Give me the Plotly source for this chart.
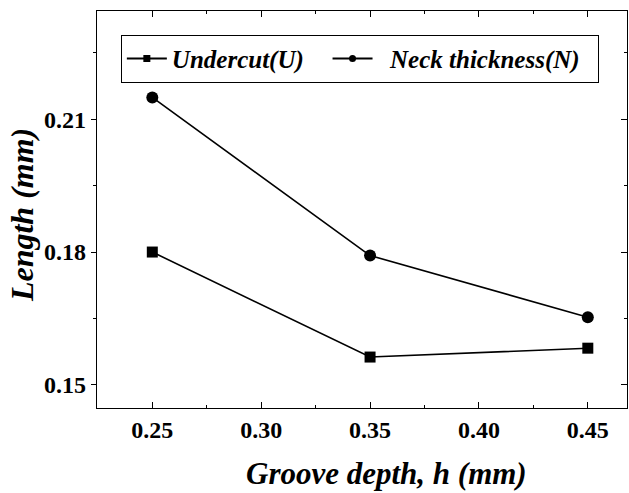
import plotly.graph_objects as go

depth = [0.25, 0.35, 0.45]
undercut = [0.1800, 0.1563, 0.1583]
neck = [0.2149, 0.1792, 0.1653]

x_ticks = [0.25, 0.30, 0.35, 0.40, 0.45]
x_labels = ["0.25", "0.30", "0.35", "0.40", "0.45"]
y_ticks = [0.15, 0.18, 0.21]
y_labels = ["0.15", "0.18", "0.21"]

serif = "Liberation Serif, Times New Roman, serif"
NB = "\u00a0"

fig = go.Figure()
fig.add_trace(go.Scatter(
    x=depth, y=undercut, mode="lines+markers", showlegend=False,
    line=dict(color="black", width=1.6),
    marker=dict(symbol="square", size=11, color="black"),
))
fig.add_trace(go.Scatter(
    x=depth, y=neck, mode="lines+markers", showlegend=False,
    line=dict(color="black", width=1.6),
    marker=dict(symbol="circle", size=12, color="black"),
))
# legend entries with small markers
fig.add_trace(go.Scatter(
    x=[None], y=[None], mode="lines+markers",
    name="<b><i>Undercut(U)</i></b>" + NB * 3,
    line=dict(color="black", width=2), marker=dict(symbol="square", size=7, color="black"),
))
fig.add_trace(go.Scatter(
    x=[None], y=[None], mode="lines+markers",
    name=NB * 2 + "<b><i>Neck thickness(N)</i></b>" + NB * 2,
    line=dict(color="black", width=2), marker=dict(symbol="circle", size=7, color="black"),
))
# invisible trace for right-side axis ticks
fig.add_trace(go.Scatter(x=depth, y=neck, yaxis="y2", mode="none",
                         showlegend=False, hoverinfo="skip"))

fig.update_layout(
    width=629, height=493,
    margin=dict(l=97, r=2, t=11, b=85),
    paper_bgcolor="white", plot_bgcolor="white",
    font=dict(family=serif, color="black"),
    showlegend=True,
    legend=dict(
        orientation="h", x=0.045, y=0.94, xanchor="left", yanchor="top",
        bordercolor="black", borderwidth=1, bgcolor="white",
        font=dict(family=serif, size=25, color="black"),
        itemwidth=40, traceorder="normal",
    ),
    xaxis=dict(
        range=[0.2246, 0.468], tickvals=x_ticks, ticktext=x_labels,
        ticks="inside", ticklen=6, tickwidth=1.2, tickcolor="black",
        showline=True, linecolor="black", linewidth=1.2, mirror="ticks",
        showgrid=False, zeroline=False,
        tickfont=dict(family=serif, size=24, color="black", weight="bold"),
        minor=dict(dtick=0.025, tick0=0.25, ticks="inside", ticklen=3, tickcolor="black", showgrid=False),
    ),
    yaxis=dict(
        range=[0.1448, 0.2344], tickvals=y_ticks, ticktext=y_labels,
        ticks="outside", ticklen=5, tickwidth=1.2, tickcolor="black",
        showline=True, linecolor="black", linewidth=1.2, mirror=True,
        showgrid=False, zeroline=False,
        tickfont=dict(family=serif, size=24, color="black", weight="bold"),
        minor=dict(dtick=0.015, tick0=0.15, ticks="outside", ticklen=3, tickcolor="black", showgrid=False),
    ),
    yaxis2=dict(
        overlaying="y", side="right", matches="y", range=[0.1448, 0.2344],
        tickvals=y_ticks, showticklabels=False, ticks="inside", ticklen=6,
        tickwidth=1.2, tickcolor="black", showgrid=False, zeroline=False, showline=False,
        minor=dict(dtick=0.015, tick0=0.15, ticks="inside", ticklen=3, tickcolor="black", showgrid=False),
    ),
    annotations=[
        dict(text="<b><i>Groove depth, h (mm)</i></b>", xref="paper", yref="paper",
             x=0.547, y=-0.164, xanchor="center", yanchor="middle", showarrow=False,
             font=dict(family=serif, size=31, color="black")),
        dict(text="<b><i>Length (mm)</i></b>", xref="paper", yref="paper",
             x=-0.1415, y=0.486, xanchor="center", yanchor="middle", showarrow=False,
             textangle=-90, font=dict(family=serif, size=32, color="black")),
    ],
)

fig.write_html("out.html")
